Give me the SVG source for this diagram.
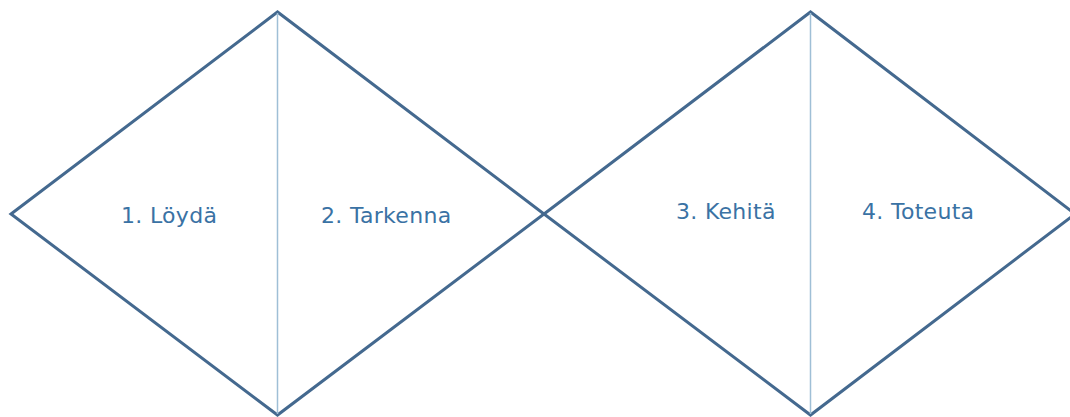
<svg xmlns="http://www.w3.org/2000/svg" width="1070" height="417" viewBox="0 0 1070 417">
<style>
.d{fill:none;stroke:#44698f;stroke-width:3;stroke-linejoin:miter}
.v{stroke:#9fbfd6;stroke-width:1.5}
.t{font-family:"DejaVu Sans",Verdana,sans-serif;font-size:22px;letter-spacing:0.3px;fill:#3a72a4}
</style>
<rect width="1070" height="417" fill="#ffffff"/>
<g id="diamond1">
<polygon class="d" points="11,214 277.5,12 544,214 277.5,415"/>
<line class="v" x1="277.5" y1="13" x2="277.5" y2="414"/>
<text class="t" x="121" y="223">1. Löydä</text>
<text class="t" x="321" y="223">2. Tarkenna</text>
</g>
<g id="diamond2">
<polygon class="d" points="544,214 810.5,12 1075,214 810.5,415"/>
<line class="v" x1="810.5" y1="13" x2="810.5" y2="414"/>
<text class="t" x="676" y="219">3. Kehitä</text>
<text class="t" x="862" y="219">4. Toteuta</text>
</g>
<g id="connectors"></g>
</svg>
